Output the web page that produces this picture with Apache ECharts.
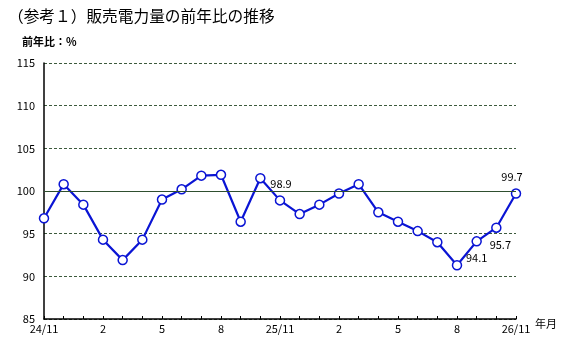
<!DOCTYPE html>
<html><head><meta charset="utf-8">
<script src="https://cdn.jsdelivr.net/npm/echarts@6/dist/echarts.min.js"></script>
<style>html,body{margin:0;padding:0;background:#fff}#c{width:562px;height:354px}</style>
</head><body><div id="c"></div>
<script>
const categories = ['24/11','24/12','25/1','25/2','25/3','25/4','25/5','25/6','25/7','25/8','25/9','25/10',
  '25/11','25/12','26/1','26/2','26/3','26/4','26/5','26/6','26/7','26/8','26/9','26/10','26/11'];
const values = [96.8,100.8,98.4,94.3,91.9,94.3,99.0,100.2,101.8,101.9,96.4,101.5,
  98.9,97.3,98.4,99.7,100.8,97.5,96.4,95.3,94.0,91.3,94.1,95.7,99.7];
const tickLabels = ['24/11','','','2','','','5','','','8','','',
  '25/11','','','2','','','5','','','8','','','26/11'];
const labeledIdx = [12,22,23,24];
const yTicks = [85,90,95,100,105,110,115];

const font = '"Noto Sans CJK JP", "Noto Sans", sans-serif';
const labelPos = {12:'top',22:'bottom',23:'bottom',24:'top'};
const labelShift = {12:[1,0],22:[0,0],23:[4,0],24:[-4,0]};
const seriesData = values.map((v,i)=>{
  const o = {value:v};
  if (labeledIdx.includes(i)) {
    o.label = {show:true, position:labelPos[i], distance:6, offset:labelShift[i], formatter: v.toFixed(1),
      color:'#000', fontSize:11, fontFamily:font};
  }
  return o;
});
const chart = echarts.init(document.getElementById('c'));
chart.setOption({
  animation:false,
  backgroundColor:'#fff',
  grid:{left:44, right:46, top:63, bottom:35},
  graphic:[
    {type:'text', left:8, top:8, style:{text:'（参考１）販売電力量の前年比の推移', fontSize:15.7, fontFamily:font, fill:'#000'}},
    {type:'text', left:22, top:36, style:{text:'前年比：%', fontSize:11, fontWeight:'bold', fontFamily:font, fill:'#000'}},
    {type:'text', left:535, top:318, style:{text:'年月', fontSize:11, fontFamily:font, fill:'#000'}}
  ],
  xAxis:{type:'category', data:categories, boundaryGap:false,
    axisLine:{lineStyle:{color:'#000', width:1.5}},
    axisTick:{show:true, inside:true, length:3, interval:0, lineStyle:{color:'#000'}},
    axisLabel:{interval:0, margin:4, color:'#000', fontSize:11, fontFamily:font,
      formatter:(v,i)=>tickLabels[i]},
    splitLine:{show:false}},
  yAxis:{type:'value', min:yTicks[0], max:yTicks[yTicks.length-1], interval:5,
    axisLine:{show:true, lineStyle:{color:'#000', width:1.5}},
    axisTick:{show:false},
    axisLabel:{margin:9, color:'#000', fontSize:11, fontFamily:font},
    splitLine:{show:true, lineStyle:{color:'#3d5a3d', type:[3,2], width:1}}},
  series:[{type:'line', data:seriesData, symbol:'circle', symbolSize:9,
    lineStyle:{color:'#0a14d4', width:2.2},
    itemStyle:{color:'#fff', borderColor:'#0a14d4', borderWidth:1.5},
    markLine:{silent:true, symbol:'none', label:{show:false},
      lineStyle:{color:'#2f4f2f', type:'solid', width:1},
      data:[{yAxis:100}]},
    z:3}]
});
</script></body></html>
